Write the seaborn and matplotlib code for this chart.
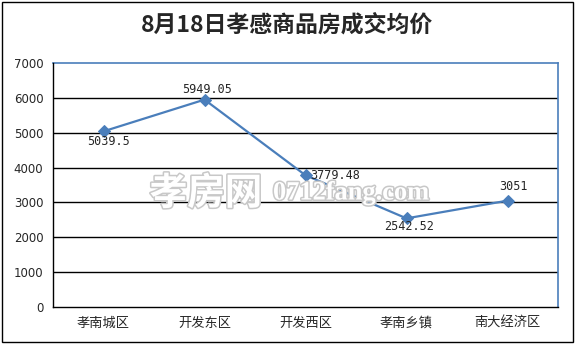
import matplotlib
matplotlib.use("Agg")
import matplotlib.pyplot as plt
import matplotlib.patheffects as pe
from matplotlib.patches import Rectangle
import seaborn as sns
import pandas as pd

categories = ["孝南城区", "开发东区", "开发西区", "孝南乡镇", "南大经济区"]
values = [5039.5, 5949.05, 3779.48, 2542.52, 3051]
value_labels = ["5039.5", "5949.05", "3779.48", "2542.52", "3051"]
y_ticks = [0, 1000, 2000, 3000, 4000, 5000, 6000, 7000]
title = "8月18日孝感商品房成交均价"

sns.set_style("white")
plt.rcParams['font.family'] = ['Noto Sans CJK SC', 'DejaVu Sans']

W, H = 575, 344
fig = plt.figure(figsize=(W / 100, H / 100), dpi=100)
ax = fig.add_axes([53 / W, (H - 307) / H, (558 - 53) / W, (307 - 63) / H])

df = pd.DataFrame({"cat": categories, "val": values, "pos": range(len(categories))})
line_color = "#4A7EBB"
sns.lineplot(data=df, x="pos", y="val", ax=ax, color=line_color, linewidth=1.6,
             marker="D", markersize=6.5, markeredgecolor=line_color, zorder=4)

ax.set_xlim(-0.5, len(categories) - 0.5)
ax.set_ylim(0, 7000)
ax.set_yticks(y_ticks)
ax.set_yticklabels([str(v) for v in y_ticks], fontsize=8.5, family="DejaVu Sans")
ax.set_xticks(range(len(categories)))
ax.set_xticklabels(categories, fontsize=9.5)
ax.set_xticks([i - 0.5 for i in range(len(categories) + 1)], minor=True)
ax.tick_params(axis="x", which="major", length=0, pad=7)
ax.tick_params(axis="x", which="minor", length=5, width=1, color="black", direction="out")
ax.tick_params(axis="y", which="major", length=5, width=1, color="black", direction="out", pad=2)
ax.set_xlabel("")
ax.set_ylabel("")

for yv in y_ticks[1:-1]:
    ax.axhline(yv, color="black", linewidth=1, zorder=1)

for s in ["left", "bottom"]:
    ax.spines[s].set_color("black")
    ax.spines[s].set_linewidth(1)
    ax.spines[s].set_zorder(6)
for s in ["top", "right"]:
    ax.spines[s].set_color(line_color)
    ax.spines[s].set_linewidth(1.2)

offsets = [(3.5, -7, "center", "center"), (2, 7, "center", "center"),
           (3.5, 0, "left", "center"), (2, -6, "center", "center"),
           (4.5, 10.5, "center", "center")]
for i, (lab, (dx, dy, ha, va)) in enumerate(zip(value_labels, offsets)):
    ax.annotate(lab, (i, values[i]), xytext=(dx, dy), textcoords="offset points",
                ha=ha, va=va, fontsize=8.5, family="DejaVu Sans Mono", zorder=5)

# watermark
stroke = [pe.withStroke(linewidth=2.2, foreground="#c8c8c8")]
fig.text(206 / W, 1 - 193 / H, "孝房网", fontsize=27, fontweight="bold", color="white",
         ha="center", va="center", path_effects=stroke, zorder=2)
fig.text(273 / W, 1 - 193 / H, "0712fang.com", fontsize=19, fontweight="bold",
         family="Liberation Serif", color="white", ha="left", va="center",
         path_effects=stroke, zorder=2)

fig.text(0.5, 1 - 25 / H, title, fontsize=16.5, fontweight="bold", ha="center", va="center")

fig.patches.append(Rectangle((2 / W, 2 / H), 571 / W, 340 / H, transform=fig.transFigure,
                             fill=False, edgecolor="black", linewidth=1))

fig.savefig("out.png", dpi=100)
